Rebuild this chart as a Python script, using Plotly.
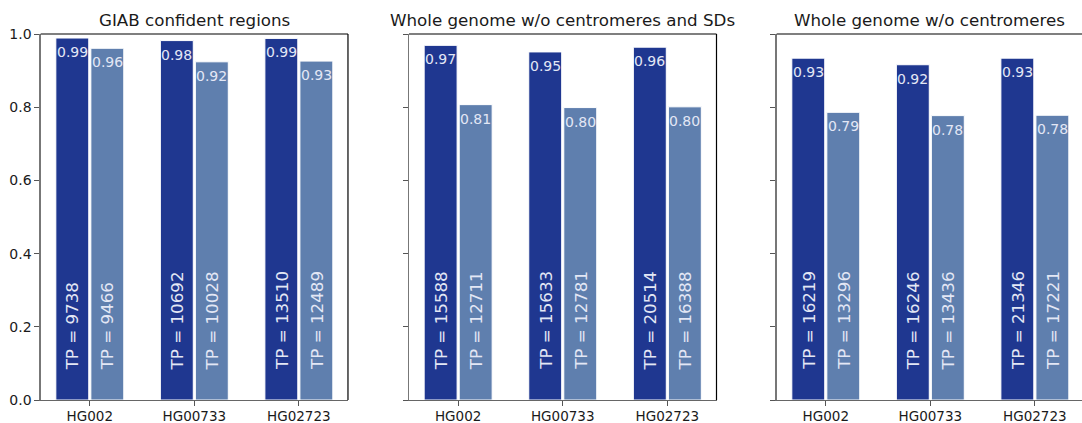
import plotly.graph_objects as go

# ---- data ----
samples = ["HG002", "HG00733", "HG02723"]
panel_titles = ["GIAB confident regions",
                "Whole genome w/o centromeres and SDs",
                "Whole genome w/o centromeres"]

dark_vals = [[0.989, 0.982, 0.988],
             [0.969, 0.951, 0.964],
             [0.934, 0.916, 0.934]]
light_vals = [[0.961, 0.924, 0.926],
              [0.807, 0.799, 0.801],
              [0.786, 0.777, 0.778]]
dark_tp = [[9738, 10692, 13510],
           [15588, 15633, 20514],
           [16219, 16246, 21346]]
light_tp = [[9466, 10028, 12489],
            [12711, 12781, 16388],
            [13296, 13436, 17221]]
y_ticks = [0.0, 0.2, 0.4, 0.6, 0.8, 1.0]

# ---- style ----
DARK = "#1f3790"
LIGHT = "#5f7fae"
LABEL_COL = "#e3e7f5"
FONT = "DejaVu Sans"
BARGAP = 0.33
GROUPGAP = 0.06
OFF = (1 - BARGAP) / 4  # centre offset of each bar inside a group

domains = [[0.0376, 0.3216], [0.3780, 0.6622], [0.7178, 1.0]]
xranges = [[-0.47, 2.47], [-0.47, 2.47], [-0.47, 2.451]]

fig = go.Figure()
annotations = []
shapes = []

for p in range(3):
    xa = "x" if p == 0 else f"x{p+1}"
    ya = "y" if p == 0 else f"y{p+1}"
    for vals, col in ((dark_vals[p], DARK), (light_vals[p], LIGHT)):
        fig.add_trace(go.Bar(
            x=samples, y=vals, xaxis=xa, yaxis=ya,
            marker=dict(color=col, line=dict(color="white", width=1)),
            hoverinfo="skip", showlegend=False))
    for i in range(len(samples)):
        for sign, vals, tps in ((-1, dark_vals[p], dark_tp[p]),
                                (1, light_vals[p], light_tp[p])):
            xpos = i + sign * OFF
            annotations.append(dict(
                x=xpos, y=vals[i], xref=xa, yref=ya,
                text=f"{vals[i]:.2f}", showarrow=False,
                xanchor="center", yanchor="top", yshift=-4,
                font=dict(family=FONT, size=14, color=LABEL_COL)))
            annotations.append(dict(
                x=xpos, y=0.09, xref=xa, yref=ya,
                text=f"TP = {tps[i]}", showarrow=False, textangle=-90,
                xanchor="center", yanchor="bottom", yshift=-5,
                font=dict(family=FONT, size=16.7, color=LABEL_COL)))
    # panel title
    annotations.append(dict(
        x=0.5, y=1, xref=f"{xa} domain", yref=f"{ya} domain",
        text=panel_titles[p], showarrow=False,
        xanchor="center", yanchor="bottom", yshift=2,
        font=dict(family=FONT, size=16.7, color="#1a1a1a")))
    # top and right spines
    shapes.append(dict(type="line", xref=f"{xa} domain", yref=f"{ya} domain",
                       x0=0, x1=1, y0=1, y1=1,
                       line=dict(color="black", width=1.2)))
    if p < 2:
        shapes.append(dict(type="line", xref=f"{xa} domain", yref=f"{ya} domain",
                           x0=1, x1=1, y0=0, y1=1,
                           line=dict(color="black", width=1.2)))

layout = dict(
    width=1082, height=423,
    margin=dict(l=0, r=0, t=34, b=23),
    paper_bgcolor="white", plot_bgcolor="white",
    barmode="group", bargap=BARGAP, bargroupgap=GROUPGAP,
    annotations=annotations, shapes=shapes,
    font=dict(family=FONT, color="#1a1a1a"),
)
for p in range(3):
    xk = "xaxis" if p == 0 else f"xaxis{p+1}"
    yk = "yaxis" if p == 0 else f"yaxis{p+1}"
    ya = "y" if p == 0 else f"y{p+1}"
    xa = "x" if p == 0 else f"x{p+1}"
    layout[xk] = dict(
        domain=domains[p], range=xranges[p], type="category",
        anchor=ya, showgrid=False, zeroline=False,
        showline=True, linecolor="#666", linewidth=1.3,
        ticks="outside", ticklen=5, tickcolor="#555", tickwidth=1,
        ticklabelstandoff=-2,
        tickfont=dict(family=FONT, size=13.5, color="#1a1a1a"),
        automargin=False, fixedrange=True)
    layout[yk] = dict(
        domain=[0, 1], range=[0, 1], anchor=xa,
        tickvals=y_ticks, ticktext=[f"{v:.1f}" for v in y_ticks],
        showticklabels=(p == 0),
        showgrid=False, zeroline=False,
        showline=True, linecolor="#777", linewidth=1.3,
        ticks="outside", ticklen=5, tickcolor="#555", tickwidth=1,
        tickfont=dict(family=FONT, size=14, color="#1a1a1a"),
        automargin=False, fixedrange=True)

fig.update_layout(**layout)
fig.write_html(
    "out.html",
    config={"displayModeBar": False, "staticPlot": True},
    post_script="document.body.style.margin='0';"
                "document.body.style.overflow='hidden';")
